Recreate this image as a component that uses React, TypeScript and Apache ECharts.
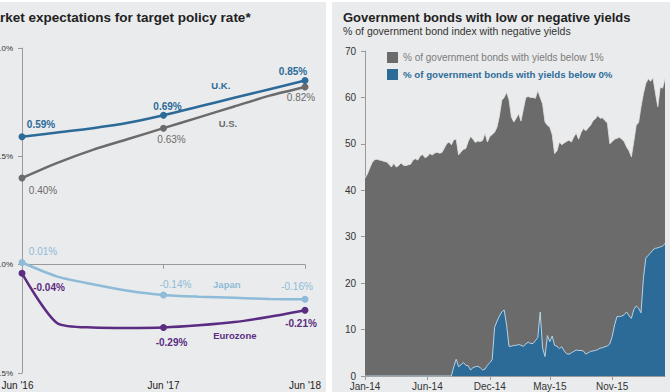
import React, { useEffect, useRef } from "react";
import * as echarts from "echarts";

const FONT = "'Liberation Sans', Arial, Helvetica, sans-serif";
const PANEL = "#eaebec";

// ---------- Left chart: market expectations for target policy rate ----------
const policyMonths = [0, 3, 6, 9, 12, 15, 18, 21, 24];
const policyTickLabels = ["Jun '16", "Jun '17", "Jun '18"];
const markedIdx = [0, 4, 8];
const ukRates = [0.59, 0.61, 0.63, 0.655, 0.69, 0.73, 0.77, 0.81, 0.85];
const usRates = [0.4, 0.47, 0.53, 0.58, 0.63, 0.68, 0.73, 0.78, 0.82];
const japanRates = [0.01, -0.055, -0.09, -0.12, -0.14, -0.148, -0.153, -0.158, -0.16];
const euroRates = [-0.04, -0.27, -0.29, -0.292, -0.29, -0.28, -0.265, -0.24, -0.21];

// ---------- Right chart: government bonds with low or negative yields ----------
const bondTickLabels = ["Jan-14", "Jun-14", "Dec-14", "May-15", "Nov-15"];
const bondTickIdx = [0, 26, 52, 77, 103];
const below1 = [
  42.6, 43.5, 44.8, 46.0, 46.6, 46.7, 46.5, 46.4, 46.2, 46.1,
  45.6, 45.0, 45.8, 45.0, 45.3, 45.9, 45.4, 45.3, 45.5, 45.6,
  46.5, 46.8, 46.5, 47.4, 47.7, 47.0, 47.3, 47.9, 47.6, 48.0,
  48.2, 48.0, 48.1, 49.0, 50.0, 50.4, 49.8, 50.9, 51.0, 47.6,
  48.3, 48.8, 49.0, 50.5, 51.6, 51.0, 50.3, 50.6, 50.5, 50.7,
  52.3, 50.4, 51.6, 52.0, 52.5, 53.6, 56.0, 59.4, 60.0, 61.1,
  59.5, 55.8, 54.7, 55.5, 56.5, 54.9, 57.5, 60.0, 60.2, 60.0,
  60.0, 59.8, 61.5, 60.0, 58.6, 54.7, 54.0, 53.6, 52.0, 47.9,
  48.5, 50.4, 49.8, 50.2, 50.5, 50.8, 50.4, 51.5, 52.3, 51.0,
  52.4, 53.3, 52.8, 53.4, 54.0, 55.0, 55.4, 56.1, 55.5, 55.6,
  55.0, 54.5, 50.0, 50.5, 51.0, 51.2, 51.4, 51.0, 50.5, 49.3,
  48.5, 47.2, 50.5, 54.0, 54.6, 58.0, 60.8, 63.0, 64.0, 63.5,
  64.2, 61.0, 58.0, 62.2, 62.0, 64.0,
];
const below0 = [
  0, 0, 0, 0, 0, 0, 0, 0, 0, 0,
  0, 0, 0, 0, 0, 0, 0, 0, 0, 0,
  0, 0, 0, 0, 0, 0, 0, 0, 0, 0,
  0, 0, 0, 0, 0, 0, 0, 2.0, 3.6, 2.0,
  2.4, 2.9, 2.3, 2.2, 1.3, 1.8, 2.0, 2.1, 1.8, 1.3,
  1.5, 2.3, 2.9, 3.5, 10.5, 11.8, 12.9, 13.8, 14.2, 11.0,
  6.4, 6.4, 6.6, 6.6, 6.8, 6.6, 6.4, 6.9, 7.3, 7.0,
  7.0, 7.6, 8.3, 13.8, 6.0, 4.2, 8.7, 7.4, 8.6, 6.6,
  6.4, 5.9, 6.3, 5.4, 4.8, 4.7, 5.0, 5.3, 5.6, 5.5,
  5.5, 5.4, 4.7, 5.0, 5.3, 5.4, 5.5, 5.7, 6.0, 6.1,
  6.3, 6.5, 6.9, 8.5, 11.0, 12.8, 12.8, 12.9, 13.2, 13.8,
  13.0, 12.4, 14.3, 15.1, 14.6, 13.6, 21.0, 25.4, 26.0, 26.5,
  27.2, 27.5, 27.6, 27.8, 28.0, 28.5,
];
const bondWeeks = below1.map((_, i) => {
  const k = bondTickIdx.indexOf(i);
  return k >= 0 ? bondTickLabels[k] : "w" + i;
});

const legendBelow1 = "% of government bonds with yields below 1%";
const legendBelow0 = "% of government bonds with yields below 0%";

const fmtPct = (v: number) => v.toFixed(2) + "%";

function policySeries(
  name: string,
  values: number[],
  color: string,
  labelColor: string,
  bold: boolean,
  offsets: number[][],
  namePos: number[],
  z: number
) {
  const data = values.map((v, i) => {
    const k = markedIdx.indexOf(i);
    if (k < 0) return { value: [policyMonths[i], v], symbol: "none" };
    return {
      value: [policyMonths[i], v],
      symbol: "circle",
      symbolSize: 7,
      label: {
        show: true,
        position: "inside",
        offset: offsets[k],
        formatter: () => fmtPct(v),
        color: labelColor,
        fontSize: 10,
        fontWeight: bold ? "bold" : "normal",
        fontFamily: FONT,
      },
    };
  });
  return {
    name,
    type: "line",
    xAxisIndex: 0,
    yAxisIndex: 0,
    z,
    showSymbol: true,
    smooth: 0.25,
    data,
    lineStyle: { color, width: 2.5 },
    itemStyle: { color },
    emphasis: { disabled: true },
    markPoint: {
      symbol: "circle",
      symbolSize: 1,
      silent: true,
      itemStyle: { color: "rgba(0,0,0,0)" },
      data: [
        {
          coord: namePos,
          label: {
            show: true,
            position: "inside",
            formatter: name,
            color: labelColor,
            fontSize: 9.5,
            fontWeight: "bold",
            fontFamily: FONT,
          },
        },
      ],
    },
  };
}

export default function App() {
  const ref = useRef<HTMLDivElement>(null);
  useEffect(() => {
    if (!ref.current) return;
    const chart = echarts.init(ref.current, undefined, { renderer: "svg" });
    const axisGray = "#9a9a9a";
    const option: any = {
      animation: false,
      backgroundColor: "#ffffff",
      textStyle: { fontFamily: FONT },
      graphic: [
        { type: "rect", z: -10, silent: true, shape: { x: 0, y: 2, width: 326, height: 390 }, style: { fill: PANEL } },
        { type: "rect", z: -10, silent: true, shape: { x: 332, y: 2, width: 338, height: 390 }, style: { fill: PANEL } },
        {
          type: "text", x: -18.7, y: 17,
          style: { text: "Market expectations for target policy rate*", fontSize: 13.5, fontWeight: "bold", fontFamily: FONT, fill: "#222", verticalAlign: "middle" },
        },
        {
          type: "text", x: 343, y: 17,
          style: { text: "Government bonds with low or negative yields", fontSize: 13, fontWeight: "bold", fontFamily: FONT, fill: "#222", verticalAlign: "middle" },
        },
        {
          type: "text", x: 343, y: 31,
          style: { text: "% of government bond index with negative yields", fontSize: 10.5, fontFamily: FONT, fill: "#333", verticalAlign: "middle" },
        },
      ],
      legend: {
        orient: "vertical",
        left: 382,
        top: 47,
        itemWidth: 11,
        itemHeight: 11,
        itemGap: 6,
        icon: "rect",
        selectedMode: false,
        data: [
          { name: legendBelow1, textStyle: { color: "#7b7b7b", fontSize: 10, fontFamily: FONT } },
          { name: legendBelow0, textStyle: { color: "#2d6d9c", fontSize: 9.7, fontWeight: "bold", fontFamily: FONT } },
        ],
      },
      grid: [
        { left: 22, right: 365, top: 48, bottom: 19, outerBoundsMode: "none", containLabel: false },
        { left: 365, right: 5, top: 51, bottom: 16, outerBoundsMode: "none", containLabel: false },
      ],
      xAxis: [
        {
          gridIndex: 0, type: "value", min: 0, max: 24, interval: 12, position: "bottom",
          axisLine: { show: false, onZero: false }, axisTick: { show: false }, splitLine: { show: false },
          axisLabel: {
            margin: 7, fontSize: 10, color: "#222",
            formatter: (v: number) => {
              const k = Math.round(v / 12);
              return k === 0 ? "{first|" + policyTickLabels[0] + "}" : policyTickLabels[k] ?? "";
            },
            rich: { first: { fontSize: 10, color: "#222", padding: [0, 9, 0, 0], fontFamily: FONT } },
          },
        },
        {
          gridIndex: 0, type: "value", min: 0, max: 24, interval: 12, position: "bottom",
          axisLine: { show: true, onZero: true, lineStyle: { color: axisGray, width: 1 } },
          axisTick: { show: true, length: 4, lineStyle: { color: axisGray } },
          axisLabel: { show: false }, splitLine: { show: false },
        },
        {
          gridIndex: 1, type: "category", data: bondWeeks, boundaryGap: false,
          axisLine: { show: true, lineStyle: { color: axisGray } },
          axisTick: { show: true, length: 4, interval: (i: number) => bondTickIdx.includes(i), lineStyle: { color: axisGray } },
          axisLabel: { interval: (i: number) => bondTickIdx.includes(i), fontSize: 10, color: "#333", margin: 5 },
          splitLine: { show: false },
        },
      ],
      yAxis: [
        {
          gridIndex: 0, type: "value", min: -0.5, max: 1.0, interval: 0.5,
          axisLine: { show: true, lineStyle: { color: axisGray } },
          axisTick: { show: true, length: 4, lineStyle: { color: axisGray } },
          splitLine: { show: false },
          axisLabel: { fontSize: 8, color: "#333", margin: 9, formatter: (v: number) => v.toFixed(1) + "%" },
        },
        {
          gridIndex: 1, type: "value", min: 0, max: 70, interval: 10,
          axisLine: { show: true, lineStyle: { color: axisGray } },
          axisTick: { show: true, length: 4, lineStyle: { color: axisGray } },
          splitLine: { show: false },
          axisLabel: { fontSize: 10, color: "#333", margin: 9 },
        },
      ],
      series: [
        policySeries("U.S.", usRates, "#6b6b6b", "#6b6b6b", false, [[21, 12], [8, 11], [-4, 10]], [17.46, 0.65], 3),
        policySeries("U.K.", ukRates, "#2c6a98", "#2c6a98", true, [[19, -12], [4, -9], [-12, -9]], [16.86, 0.825], 4),
        policySeries("Japan", japanRates, "#8dbbd8", "#8dbbd8", false, [[21, -11], [12, -11], [-8, -13]], [17.37, -0.092], 3),
        policySeries("Eurozone", euroRates, "#5a2d82", "#5a2d82", true, [[27, 14], [8, 15], [-4, 13]], [18.05, -0.327], 4),
        {
          name: legendBelow1, type: "line", xAxisIndex: 2, yAxisIndex: 1, data: below1,
          symbol: "none", showSymbol: false,
          lineStyle: { color: "#e4e4e4", width: 0.8 },
          itemStyle: { color: "#6b6b6b" },
          areaStyle: { color: "#6b6b6b", opacity: 1 },
          emphasis: { disabled: true },
        },
        {
          name: legendBelow0, type: "line", xAxisIndex: 2, yAxisIndex: 1, data: below0,
          symbol: "none", showSymbol: false,
          lineStyle: { color: "#b8d3e6", width: 1 },
          itemStyle: { color: "#2c6a97" },
          areaStyle: { color: "#2c6a97", opacity: 1 },
          emphasis: { disabled: true },
        },
      ],
    };
    chart.setOption(option);
    return () => chart.dispose();
  }, []);
  return (
    <div
      ref={ref}
      style={{ position: "absolute", left: 0, top: 0, width: 670, height: 392 }}
    />
  );
}
